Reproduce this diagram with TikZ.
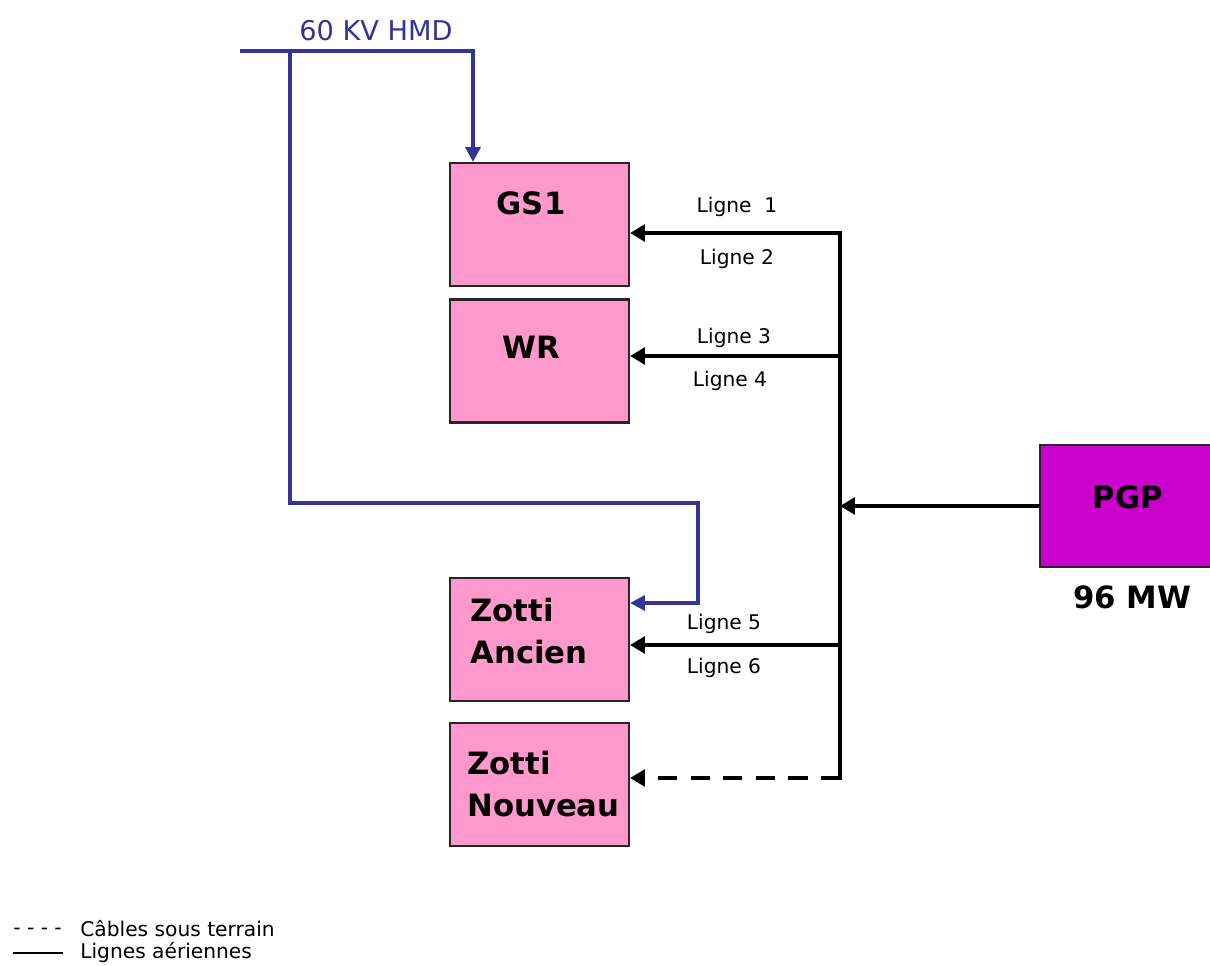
\documentclass[tikz,border=0pt]{standalone}
\usepackage{fontspec}
\setmainfont{DejaVu Sans}
\usetikzlibrary{arrows.meta}
\definecolor{hmdblue}{HTML}{333399}
\definecolor{boxpink}{HTML}{FF99CC}
\definecolor{pgpmag}{HTML}{CC00CC}
\tikzset{
  box/.style={draw=black!85, line width=1.2pt, fill=boxpink, minimum width=3.58cm, minimum height=2.46cm, inner sep=0pt},
  pgpbox/.style={fill=pgpmag, minimum width=3.8cm, minimum height=2.44cm, inner sep=0pt},
  pgpedge/.style={draw=black!85, line width=1.2pt},
  boxtext/.style={inner sep=0pt, font=\fontsize{17.5}{24}\selectfont\bfseries, align=left},
  ligne/.style={inner sep=0pt, font=\fontsize{11.5}{14}\selectfont},
  blueline/.style={draw=hmdblue, line width=2.1pt},
  bluearrow/.style={blueline, -{Triangle[length=8.5pt,width=8.5pt]}},
  busline/.style={draw=black, line width=2.7pt},
  busarrow/.style={busline, -{Triangle[length=8.5pt,width=9.5pt]}},
  cablearrow/.style={busarrow, dash pattern=on 11pt off 7.5pt},
}
\begin{document}
\begin{tikzpicture}[x=0.02cm,y=-0.02cm]
\useasboundingbox (0,0) rectangle (1210,966);

% boxes
\node[box] (gs1) at (539.5,224.5) {};
\node[box] (wr) at (539.5,361) {};
\node[box] (za) at (539.5,639.5) {};
\node[box] (zn) at (539.5,784.5) {};
\node[pgpbox] (pgp) at (1135,506) {};
\draw[pgpedge] (pgp.north east) -- (pgp.north west) -- (pgp.south west) -- (pgp.south east);

% box texts
\node[boxtext] (tgs1) at (531,203) {GS1};
\node[boxtext] (twr) at (531,347) {WR};
\node[boxtext, anchor=west] (tza) at (470,631) {Zotti\\Ancien};
\node[boxtext, anchor=west] (tzn) at (467,784) {Zotti\\Nouveau};
\node[boxtext] (tpgp) at (1128,497) {PGP};
\node[boxtext] (tmw) at (1132,597) {96 MW};

% 60 kV HMD bus
\node[inner sep=0pt, text=hmdblue, font=\fontsize{15.5}{18}\selectfont] (hmd) at (376,31) {60 KV HMD};
\coordinate (hL) at (240,51);
\coordinate (hA) at (290,51);
\coordinate (hB) at (473,51);
\coordinate (hC) at (290,503);
\coordinate (hD) at (698,503);
\coordinate (hE) at (698,603);
\draw[bluearrow] (hL) -- (hB) -- (hB |- gs1.north);
\draw[bluearrow] (hA) -- (hC) -- (hD) -- (hE) -- (za.east |- hE);

% PGP bus
\coordinate (b1) at (840,233);
\coordinate (b2) at (840,356);
\coordinate (b3) at (840,506);
\coordinate (b4) at (840,645);
\coordinate (b5) at (840,778);
\draw[busline, line cap=rect] (b1) -- (b5);
\draw[busarrow] (b1) -- (gs1.east |- b1);
\draw[busarrow] (b2) -- (wr.east |- b2);
\draw[busarrow] (pgp.west |- b3) -- (b3);
\draw[busarrow] (b4) -- (za.east |- b4);
\draw[cablearrow] (b5) -- (zn.east |- b5);

% line labels
\node[ligne] (l1) at (737,207) {Ligne\ \ 1};
\node[ligne] (l2) at (737,259) {Ligne 2};
\node[ligne] (l3) at (734,338) {Ligne 3};
\node[ligne] (l4) at (730,381) {Ligne 4};
\node[ligne] (l5) at (724,624) {Ligne 5};
\node[ligne] (l6) at (724,668) {Ligne 6};

% legend
\node[ligne, anchor=west] (dsh) at (13,931) {- - - -};
\node[ligne, anchor=west] (lg1) at (80,929) {Câbles sous terrain};
\coordinate (s1) at (13,953);
\coordinate (s2) at (63,953);
\draw[line width=0.9pt] (s1) -- (s2);
\node[ligne, anchor=west] (lg2) at (80,953) {Lignes aériennes};
\end{tikzpicture}
\end{document}
